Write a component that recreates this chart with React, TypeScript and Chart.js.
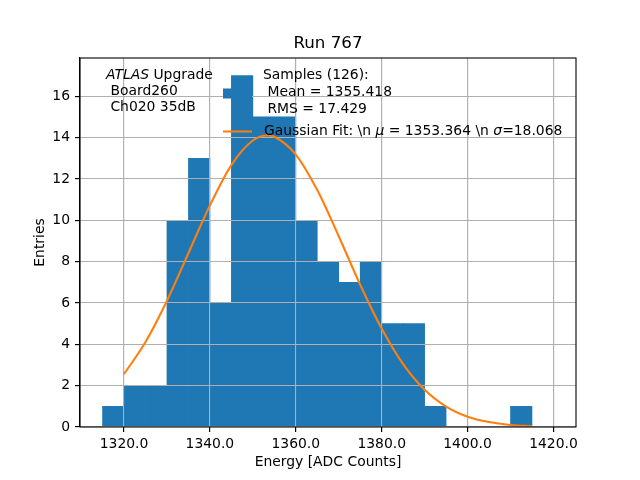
import React, { useEffect, useRef } from "react";
import { Chart, registerables } from "chart.js";

Chart.register(...registerables);

// ---- data ----
const binCenters = [
  1317.5, 1322.5, 1327.5, 1332.5, 1337.5, 1342.5, 1347.5, 1352.5, 1357.5, 1362.5,
  1367.5, 1372.5, 1377.5, 1382.5, 1387.5, 1392.5, 1397.5, 1402.5, 1407.5, 1412.5, 1417.5,
];
const binCounts = [1, 2, 2, 10, 13, 6, 17, 15, 15, 10, 8, 7, 8, 5, 5, 1, 0, 0, 0, 1, 0];

const fitX = [
  1320, 1325, 1330, 1335, 1340, 1345, 1350, 1353.4, 1355, 1360, 1365, 1370, 1375, 1380,
  1385, 1390, 1395, 1400, 1405, 1410, 1415,
];
const fitY = [
  2.56, 4.11, 6.11, 8.41, 10.72, 12.67, 13.86, 14.1, 14.04, 13.18, 11.46, 9.23, 6.88, 4.76,
  3.04, 1.8, 0.99, 0.5, 0.24, 0.1, 0.04,
];

const xTicks = [1320, 1340, 1360, 1380, 1400, 1420];
const yTicks = [0, 2, 4, 6, 8, 10, 12, 14, 16];
const xRange = [1309.75, 1425.25];
const yRange = [0, 17.85];

const titleText = "Run 767";
const xLabel = "Energy [ADC Counts]";
const yLabel = "Entries";
const annotLines = [" Board260", " Ch020 35dB"];
const sampleLabel = ["Samples (126):", " Mean = 1355.418", " RMS = 17.429"];
const fitMu = "1353.364";
const fitSigma = "18.068";

const BLUE = "#1f77b4";
const ORANGE = "#ff7f0e";
const FONT = "DejaVu Sans";

const overlay = {
  id: "overlay",
  afterDatasetDraw(chart: any, args: any) {
    if (args.index === 0) {
      const ctx = chart.ctx;
      ctx.save();
      chart.scales.x.drawGrid(chart.chartArea);
      chart.scales.y.drawGrid(chart.chartArea);
      ctx.restore();
    }
  },
  afterDraw(chart: any) {
    const ctx = chart.ctx as CanvasRenderingContext2D;
    const a = chart.chartArea;
    ctx.save();
    // frame
    ctx.strokeStyle = "#000";
    ctx.lineWidth = 1.1;
    ctx.strokeRect(a.left, a.top, a.right - a.left, a.bottom - a.top);

    const cx = (a.left + a.right) / 2;
    ctx.fillStyle = "#000";
    ctx.textBaseline = "middle";
    // title
    ctx.textAlign = "center";
    ctx.font = `16.7px "${FONT}"`;
    ctx.fillText(titleText, cx, 44);
    // x label
    ctx.font = `13.9px "${FONT}"`;
    ctx.fillText(xLabel, cx, 462);
    // y label
    ctx.save();
    ctx.translate(40, (a.top + a.bottom) / 2);
    ctx.rotate(-Math.PI / 2);
    ctx.fillText(yLabel, 0, 0);
    ctx.restore();

    // ATLAS annotation
    ctx.textAlign = "left";
    ctx.font = `italic 13.9px "${FONT}"`;
    ctx.fillText("ATLAS", 106, 75);
    const w = ctx.measureText("ATLAS").width;
    ctx.font = `13.9px "${FONT}"`;
    ctx.fillText(" Upgrade", 106 + w, 75);
    annotLines.forEach((t, i) => ctx.fillText(t, 106, 91.5 + i * 16.3));

    // legend
    ctx.fillStyle = BLUE;
    ctx.fillRect(223, 88.5, 29, 10);
    ctx.fillStyle = "#000";
    sampleLabel.forEach((t, i) => ctx.fillText(t, 263, 75 + i * 17));
    ctx.strokeStyle = ORANGE;
    ctx.lineWidth = 2.1;
    ctx.beginPath();
    ctx.moveTo(223, 131.5);
    ctx.lineTo(252, 131.5);
    ctx.stroke();
    const segs: [string, boolean][] = [
      ["Gaussian Fit: \\n ", false],
      ["\u03bc", true],
      [` = ${fitMu} \\n `, false],
      ["\u03c3", true],
      [`=${fitSigma}`, false],
    ];
    let x = 264;
    segs.forEach(([t, it]) => {
      ctx.font = `${it ? "italic " : ""}13.9px "${FONT}"`;
      ctx.fillText(t, x, 131);
      x += ctx.measureText(t).width;
    });
    ctx.restore();
  },
};

export default function App() {
  const ref = useRef<HTMLCanvasElement>(null);
  useEffect(() => {
    document.body.style.margin = "0";
    const chart = new Chart(ref.current!, {
      type: "bar",
      data: {
        datasets: [
          {
            type: "bar",
            data: binCenters.map((c, i) => ({ x: c, y: binCounts[i] })),
            backgroundColor: BLUE,
            borderWidth: 0,
            barPercentage: 1,
            categoryPercentage: 1,
            order: 1,
          } as any,
          {
            type: "line",
            data: fitX.map((v, i) => ({ x: v, y: fitY[i] })),
            borderColor: ORANGE,
            borderWidth: 2.1,
            pointRadius: 0,
            fill: false,
            cubicInterpolationMode: "monotone",
            order: 0,
          } as any,
        ],
      },
      plugins: [overlay],
      options: {
        responsive: false,
        animation: false,
        layout: { padding: { top: 58, right: 64, left: 0, bottom: 0 } },
        plugins: { legend: { display: false }, tooltip: { enabled: false }, title: { display: false } },
        scales: {
          x: {
            type: "linear",
            offset: false,
            min: xRange[0],
            max: xRange[1],
            afterBuildTicks: (s: any) => {
              s.ticks = xTicks.map((v) => ({ value: v }));
            },
            afterFit: (s: any) => {
              s.height = 53;
            },
            grid: { color: "#b0b0b0", lineWidth: 1.1, tickLength: 5, tickColor: "#000", offset: false },
            border: { color: "#000", width: 1.1 },
            ticks: {
              padding: 4,
              color: "#000",
              maxRotation: 0,
              font: { family: FONT, size: 13.9 },
              callback: (v: any) => Number(v).toFixed(1),
            },
          },
          y: {
            type: "linear",
            min: yRange[0],
            max: yRange[1],
            afterBuildTicks: (s: any) => {
              s.ticks = yTicks.map((v) => ({ value: v }));
            },
            afterFit: (s: any) => {
              s.width = 80;
            },
            grid: { color: "#b0b0b0", lineWidth: 1.1, tickLength: 5, tickColor: "#000" },
            border: { color: "#000", width: 1.1 },
            ticks: {
              padding: 5,
              color: "#000",
              font: { family: FONT, size: 13.9 },
              callback: (v: any) => String(v),
            },
          },
        },
      } as any,
    });
    return () => chart.destroy();
  }, []);
  return (
    <div style={{ position: "absolute", left: 0, top: 0, width: 640, height: 480, background: "#fff" }}>
      <canvas ref={ref} width={640} height={480} />
    </div>
  );
}
